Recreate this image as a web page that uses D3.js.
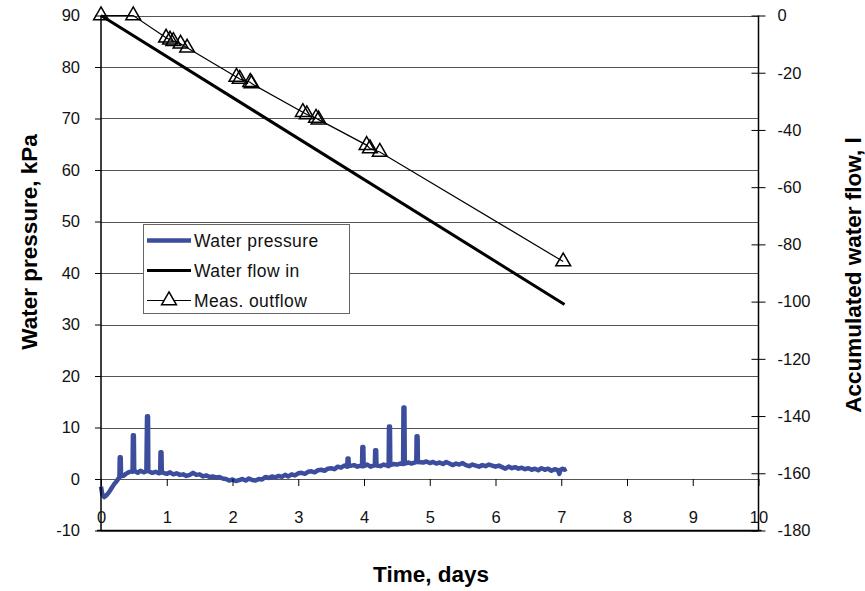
<!DOCTYPE html>
<html>
<head>
<meta charset="utf-8">
<script src="https://cdn.jsdelivr.net/npm/d3@7"></script>
<style>
  body { margin: 0; background: #fff; }
  text { font-family: "Liberation Sans", Arial, sans-serif; }
</style>
</head>
<body>
<script>
// data
var dayTicks = [0, 1, 2, 3, 4, 5, 6, 7, 8, 9, 10];
var pressureTicks = [-10, 0, 10, 20, 30, 40, 50, 60, 70, 80, 90];
var flowTicks = [-180, -160, -140, -120, -100, -80, -60, -40, -20, 0];

// water pressure, [day, kPa]
var waterPressure = [
  [0.00, -1.5], [0.02, -3.0], [0.05, -3.5], [0.08, -3.2], [0.12, -2.6], [0.16, -1.8],
  [0.20, -1.0], [0.24, -0.4], [0.27, 0.2], [0.28, 0.4], [0.285, 4.2], [0.30, 4.2], [0.305, 0.5],
  [0.34, 0.6], [0.38, 1.0], [0.42, 1.3], [0.46, 1.5], [0.48, 1.4], [0.485, 8.5], [0.50, 8.5],
  [0.505, 1.6], [0.56, 1.2], [0.60, 1.6], [0.65, 1.3], [0.69, 1.5], [0.70, 12.2], [0.715, 12.2],
  [0.72, 1.5], [0.78, 1.2], [0.83, 1.4], [0.88, 1.1], [0.90, 1.2], [0.905, 5.2], [0.92, 5.2],
  [0.925, 1.3], [1.00, 1.0], [1.05, 1.3], [1.10, 0.9], [1.15, 1.1], [1.20, 0.8], [1.25, 0.9],
  [1.30, 0.6], [1.35, 0.8], [1.40, 1.2], [1.45, 0.8], [1.50, 0.9], [1.55, 0.5], [1.60, 0.7],
  [1.65, 0.4], [1.70, 0.5], [1.75, 0.3], [1.80, 0.4], [1.85, 0.1], [1.90, 0.0], [1.95, -0.3],
  [2.00, -0.1], [2.05, -0.4], [2.10, -0.2], [2.15, 0.0], [2.20, -0.3], [2.25, 0.1], [2.30, -0.2],
  [2.35, -0.3], [2.40, 0.0], [2.45, -0.1], [2.50, 0.4], [2.55, 0.2], [2.60, 0.5], [2.65, 0.3],
  [2.70, 0.6], [2.75, 0.4], [2.80, 0.8], [2.85, 0.5], [2.90, 0.9], [2.95, 0.7], [3.00, 1.1],
  [3.05, 1.2], [3.10, 1.0], [3.15, 1.4], [3.20, 1.5], [3.25, 1.3], [3.30, 1.7], [3.35, 1.8],
  [3.40, 1.6], [3.45, 2.0], [3.50, 2.1], [3.55, 1.9], [3.60, 2.4], [3.65, 2.2], [3.70, 2.6],
  [3.745, 2.4], [3.75, 4.0], [3.765, 4.0], [3.77, 2.5], [3.85, 2.7], [3.90, 2.4], [3.95, 2.6],
  [3.97, 2.5], [3.975, 6.2], [3.99, 6.2], [3.995, 2.5], [4.05, 2.8], [4.10, 2.4], [4.165, 2.7],
  [4.17, 5.6], [4.185, 5.6], [4.19, 2.6], [4.25, 2.5], [4.30, 2.8], [4.375, 2.5], [4.38, 10.2],
  [4.395, 10.2], [4.40, 2.7], [4.45, 2.9], [4.50, 2.8], [4.55, 3.0], [4.595, 2.9], [4.60, 13.9],
  [4.615, 13.9], [4.62, 3.0], [4.68, 3.2], [4.72, 3.0], [4.795, 3.3], [4.80, 8.3], [4.815, 8.3],
  [4.82, 3.3], [4.90, 3.2], [4.95, 3.4], [5.00, 3.1], [5.05, 3.3], [5.10, 3.0], [5.15, 3.2],
  [5.20, 2.9], [5.25, 3.3], [5.30, 3.0], [5.35, 2.7], [5.40, 3.0], [5.45, 2.8], [5.50, 3.1],
  [5.55, 2.7], [5.60, 2.5], [5.65, 2.8], [5.70, 2.6], [5.75, 2.4], [5.80, 2.7], [5.85, 2.5],
  [5.90, 2.8], [5.95, 2.6], [6.00, 2.4], [6.05, 2.6], [6.10, 2.3], [6.15, 2.0], [6.20, 2.4],
  [6.25, 2.1], [6.30, 2.3], [6.35, 2.0], [6.40, 2.2], [6.45, 1.9], [6.50, 2.1], [6.55, 1.8],
  [6.60, 2.0], [6.65, 1.7], [6.70, 2.1], [6.75, 1.8], [6.80, 2.0], [6.85, 1.6], [6.90, 1.9],
  [6.95, 1.7], [6.97, 1.0], [6.99, 1.8], [7.02, 2.0], [7.05, 1.8], [7.08, 2.0]
];

// water flow in, [day, litres]
var flowIn = [[0, 0], [7.05, -101]];

// measured outflow, [day, litres]
var measOutflow = [
  [0.00, 0], [0.49, 0],
  [0.99, -7.8], [1.05, -8.5], [1.10, -9.0], [1.21, -9.9], [1.31, -11.3],
  [2.06, -21.5], [2.11, -22.2], [2.27, -23.3], [2.29, -23.8],
  [3.07, -33.8], [3.13, -34.6], [3.27, -35.8], [3.31, -36.4],
  [4.04, -45.3], [4.09, -46.5], [4.24, -47.7],
  [7.03, -86.0]
];

function draw() {
  var w = 865, h = 591;
  var svg = d3.select("body").append("svg")
    .attr("width", w)
    .attr("height", h);

  var x = d3.scaleLinear().domain([0, 10]).range([101, 758.5]);
  var yL = d3.scaleLinear().domain([-10, 90]).range([530.5, 15.5]);
  var yR = d3.scaleLinear().domain([-180, 0]).range([530.5, 15.5]);
  var blue = "#3d4d9e";

  // horizontal gridlines on the pressure ticks
  svg.append("g").selectAll("line")
    .data(pressureTicks)
    .enter().append("line")
    .attr("x1", x(0)).attr("x2", x(10))
    .attr("y1", function(d) { return Math.round(yL(d)) + 0.5; })
    .attr("y2", function(d) { return Math.round(yL(d)) + 0.5; })
    .attr("stroke", "#555")
    .attr("stroke-width", 1);

  // legend box sits over the grid
  var lg = svg.append("g");
  lg.append("rect")
    .attr("x", 143.5).attr("y", 224.5)
    .attr("width", 206).attr("height", 89)
    .attr("fill", "#fff")
    .attr("stroke", "#666");

  // flow lines
  var lineR = d3.line()
    .x(function(d) { return x(d[0]); })
    .y(function(d) { return yR(d[1]); });

  svg.append("path")
    .datum(flowIn)
    .attr("d", lineR)
    .attr("fill", "none")
    .attr("stroke", "#000")
    .attr("stroke-width", 3);

  svg.append("path")
    .datum(measOutflow)
    .attr("d", lineR)
    .attr("fill", "none")
    .attr("stroke", "#000")
    .attr("stroke-width", 1.2);

  var tri = d3.symbol().type(d3.symbolTriangle).size(95);
  svg.append("g").selectAll("path")
    .data(measOutflow)
    .enter().append("path")
    .attr("d", tri)
    .attr("transform", function(d) { return "translate(" + x(d[0]) + "," + yR(d[1]) + ")"; })
    .attr("fill", "none")
    .attr("stroke", "#000")
    .attr("stroke-width", 1.5);

  // water pressure
  var lineL = d3.line()
    .x(function(d) { return x(d[0]); })
    .y(function(d) { return yL(d[1]); });

  svg.append("path")
    .datum(waterPressure)
    .attr("d", lineL)
    .attr("fill", "none")
    .attr("stroke", blue)
    .attr("stroke-width", 4.5)
    .attr("stroke-linejoin", "round");

  // axes
  var plain = function(d) { return String(d); };
  var left = svg.append("g")
    .attr("transform", "translate(" + x(0) + ",0)")
    .call(d3.axisLeft(yL).tickValues(pressureTicks).tickFormat(plain).tickSize(6).tickPadding(15));
  var right = svg.append("g")
    .attr("transform", "translate(" + x(10) + ",0)")
    .call(d3.axisRight(yR).tickValues(flowTicks).tickFormat(plain).tickSize(7).tickPadding(12));
  right.selectAll(".tick line").attr("x1", -7);
  var bottom = svg.append("g")
    .attr("transform", "translate(0," + yL(0) + ")")
    .call(d3.axisBottom(x).tickValues(dayTicks).tickFormat(plain).tickSize(7).tickPadding(25));

  [left, right, bottom].forEach(function(a) {
    a.select(".domain").attr("stroke", "#000").attr("stroke-width", 1.5);
    a.selectAll(".tick line").attr("stroke", "#000");
    a.selectAll(".tick text")
      .attr("font-size", 16.5)
      .attr("fill", "#111")
      .style("font-family", "'Liberation Sans', Arial, sans-serif");
  });
  bottom.select(".domain").remove();
  left.select(".domain").attr("d", "M0," + yL(-10) + "V" + yL(90));
  right.select(".domain").attr("d", "M0," + yR(-180) + "V" + yR(0));

  // bottom frame line at -10
  svg.append("line")
    .attr("x1", x(0) - 4).attr("x2", x(10) + 3)
    .attr("y1", yL(-10)).attr("y2", yL(-10))
    .attr("stroke", "#000").attr("stroke-width", 1.5);

  // axis titles
  svg.append("text")
    .attr("x", 431).attr("y", 582)
    .attr("text-anchor", "middle")
    .attr("font-size", 22.5).attr("font-weight", "bold")
    .text("Time, days");
  svg.append("text")
    .attr("transform", "translate(37,242) rotate(-90)")
    .attr("text-anchor", "middle")
    .attr("font-size", 22.5).attr("font-weight", "bold")
    .text("Water pressure, kPa");
  svg.append("text")
    .attr("transform", "translate(861,275) rotate(-90)")
    .attr("text-anchor", "middle")
    .attr("font-size", 22.5).attr("font-weight", "bold")
    .text("Accumulated water flow, l");

  // legend entries
  var entries = ["Water pressure", "Water flow in", "Meas. outflow"];
  var rowY = [240.5, 270.5, 300.5];
  var row = lg.selectAll("g.row")
    .data(entries)
    .enter().append("g")
    .attr("class", "row")
    .attr("transform", function(d, i) { return "translate(0," + rowY[i] + ")"; });
  row.append("line")
    .attr("x1", 147).attr("x2", 191)
    .attr("y1", 0).attr("y2", 0)
    .attr("stroke", function(d, i) { return i == 0 ? blue : "#000"; })
    .attr("stroke-width", function(d, i) { return [4.5, 3, 1.2][i]; });
  row.filter(function(d, i) { return i == 2; })
    .append("path")
    .attr("d", tri)
    .attr("transform", "translate(169,0)")
    .attr("fill", "#fff")
    .attr("stroke", "#000")
    .attr("stroke-width", 1.5);
  row.append("text")
    .attr("x", 194).attr("y", 6)
    .attr("font-size", 17.5)
    .attr("letter-spacing", 0.4)
    .attr("fill", "#111")
    .text(function(d) { return d; });
}

window.onload = draw;
</script>
</body>
</html>
